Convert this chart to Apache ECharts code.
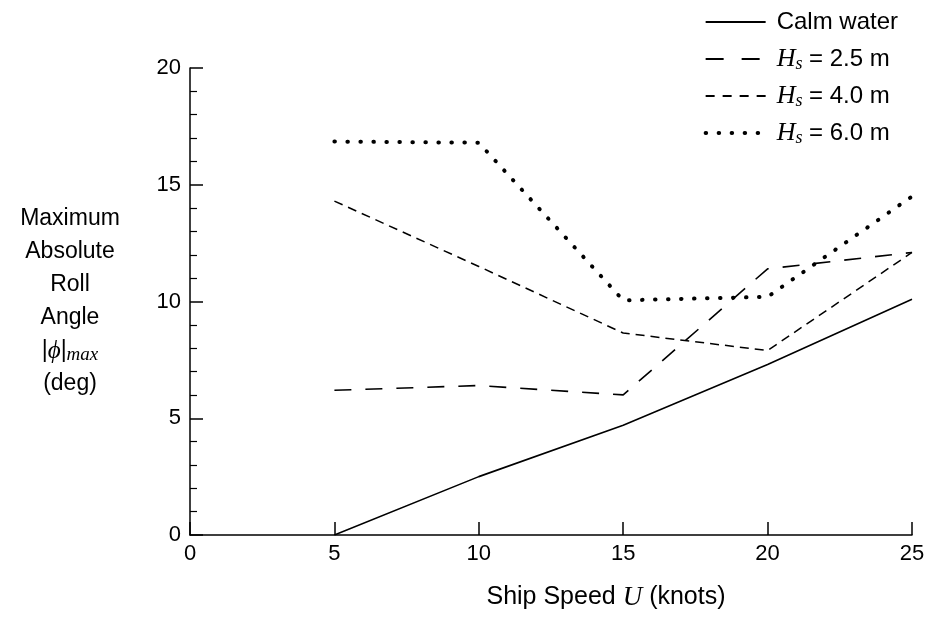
<!DOCTYPE html>
<html>
<head>
<meta charset="utf-8">
<script src="https://cdn.jsdelivr.net/npm/echarts@6/dist/echarts.min.js"></script>
<style>
  html, body { margin: 0; padding: 0; background: #fff; }
  #chart { width: 931px; height: 619px; }
</style>
</head>
<body>
<div id="chart"></div>
<script>
// ship speed (knots)
const speeds = [5, 10, 15, 20, 25]
// max absolute roll angle (deg)
const calmWater = [0, 2.5, 4.7, 7.3, 10.1]
const hs25 = [6.2, 6.4, 6.0, 11.4, 12.1]
const hs40 = [14.3, 11.5, 8.65, 7.9, 12.1]
const hs60 = [16.85, 16.8, 10.05, 10.2, 14.5]

const seriesNames = ['Calm water', 'Hs = 2.5 m', 'Hs = 4.0 m', 'Hs = 6.0 m']
const legendLabels = {
  'Calm water': 'Calm water',
  'Hs = 2.5 m': '{i|H}{sub|s} = 2.5 m',
  'Hs = 4.0 m': '{i|H}{sub|s} = 4.0 m',
  'Hs = 6.0 m': '{i|H}{sub|s} = 6.0 m',
}

const pairs = (vals) => speeds.map((s, i) => [s, vals[i]])

const sans = 'Liberation Sans, Arial, sans-serif'
const serif = 'Liberation Serif, DejaVu Serif, serif'

const chart = echarts.init(document.getElementById('chart'))

const dotStyle = { color: '#000', width: 4, type: [0.5, 12.5], cap: 'round' }

const lineSeries = (name, vals, style) => ({
  name: name,
  type: 'line',
  data: pairs(vals),
  symbol: 'none',
  color: '#000',
  lineStyle: style,
})

chart.setOption({
  animation: false,
  grid: { left: 190, right: 19, top: 68, bottom: 84 },
  legend: {
    orient: 'vertical',
    right: 28,
    top: 3,
    itemWidth: 60,
    itemHeight: 12,
    itemGap: 9,
    data: [
      { name: seriesNames[0] },
      { name: seriesNames[1], lineStyle: { type: [18, 18] } },
      { name: seriesNames[2], lineStyle: { type: [9, 8] } },
      { name: seriesNames[3], lineStyle: { width: 4, type: [0.5, 12.5], cap: 'round' } },
    ],
    formatter: (name) => legendLabels[name],
    itemStyle: { opacity: 0 },
    textStyle: {
      fontFamily: sans,
      fontSize: 24,
      color: '#000',
      lineHeight: 28,
      padding: [0, 0, 0, 6],
      rich: {
        i: { fontFamily: serif, fontStyle: 'italic', fontSize: 26, color: '#000', lineHeight: 28 },
        sub: { fontFamily: serif, fontStyle: 'italic', fontSize: 18, color: '#000', lineHeight: 28, padding: [10, 0, 0, 0] },
      },
    },
  },
  xAxis: {
    type: 'value',
    min: 0,
    max: 25,
    interval: 5,
    name: 'Ship Speed {i|U} (knots)',
    nameLocation: 'middle',
    nameGap: 49,
    nameTextStyle: {
      fontFamily: sans,
      fontSize: 25,
      color: '#000',
      padding: [0, 0, 0, 110],
      rich: {
        i: { fontFamily: serif, fontStyle: 'italic', fontSize: 27, color: '#000' },
      },
    },
    axisLine: { lineStyle: { color: '#000', width: 1.5 } },
    axisTick: { inside: true, length: 13, lineStyle: { color: '#000', width: 1.5 } },
    axisLabel: { fontFamily: sans, fontSize: 22, color: '#000', margin: 8 },
    splitLine: { show: false },
  },
  yAxis: {
    type: 'value',
    min: 0,
    max: 20,
    interval: 5,
    name: 'Maximum\nAbsolute\nRoll\nAngle\n|{i|ϕ}|{sub|max}\n(deg)',
    nameLocation: 'middle',
    nameRotate: 0,
    nameGap: 120,
    nameTextStyle: {
      fontFamily: sans,
      fontSize: 23,
      color: '#000',
      align: 'center',
      verticalAlign: 'middle',
      lineHeight: 33,
      rich: {
        i: { fontFamily: serif, fontStyle: 'italic', fontSize: 25, color: '#000', lineHeight: 33 },
        sub: { fontFamily: serif, fontStyle: 'italic', fontSize: 19, color: '#000', lineHeight: 33, padding: [8, 0, 0, 0] },
      },
    },
    axisLine: { show: true, lineStyle: { color: '#000', width: 1.5 } },
    axisTick: { inside: true, length: 13, lineStyle: { color: '#000', width: 1.5 } },
    minorTick: { show: true, splitNumber: 5, length: 7, lineStyle: { color: '#000', width: 1.2 } },
    axisLabel: { fontFamily: sans, fontSize: 22, color: '#000', margin: 9 },
    splitLine: { show: false },
  },
  series: [
    lineSeries('Calm water', calmWater, { color: '#000', width: 1.6, type: 'solid' }),
    lineSeries('Hs = 2.5 m', hs25, { color: '#000', width: 1.6, type: [17, 14] }),
    lineSeries('Hs = 4.0 m', hs40, { color: '#000', width: 1.5, type: [9, 6] }),
    lineSeries('Hs = 6.0 m', hs60, dotStyle),
  ],
})
</script>
</body>
</html>
